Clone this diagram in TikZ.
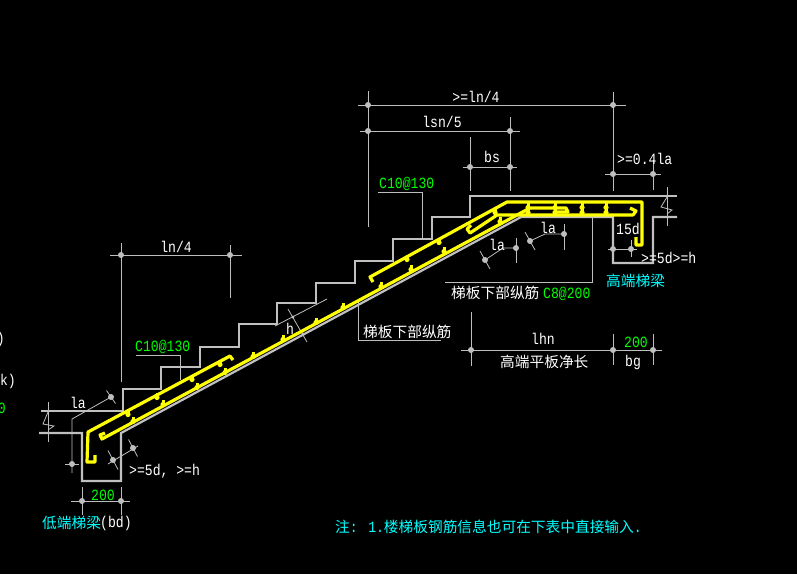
\documentclass[tikz,border=0pt]{standalone}
\usepackage{fontspec}
\setmainfont[FakeStretch=0.84]{Liberation Mono}
\newfontfamily\cjk{Noto Sans CJK SC}
\definecolor{cadgrey}{RGB}{192,192,192}
\definecolor{dimgrey}{RGB}{190,190,190}
\definecolor{cadyellow}{RGB}{255,255,0}
\definecolor{cadgreen}{RGB}{0,255,0}
\definecolor{cadcyan}{RGB}{0,255,255}
\newcommand{\cn}[1]{{\cjk\fontsize{14.7}{15}\selectfont #1}}
\tikzset{
  concrete/.style={draw=cadgrey,line width=2.2pt,line join=miter},
  dimline/.style={draw=dimgrey,line width=0.8pt},
  bar/.style={draw=cadyellow,line width=3.2pt,line join=round},
  tie/.style={cadyellow},
  dimdot/.style={fill=dimgrey,draw=none},
  wtext/.style={text=white,inner sep=0pt,font=\fontsize{15.6}{16}\selectfont},
  gtext/.style={wtext,text=cadgreen},
  ctext/.style={wtext,text=cadcyan}
}
\newcommand{\dd}[2]{\fill[dimdot] (#1,#2) circle (3pt);}
\newcommand{\tk}[2]{\fill[tie] (#1-1.5,#2-3.5) rectangle (#1+1.5,#2+2.5);\fill[tie] (#1,#2+1.5) circle (2.6pt);}
\newcommand{\sk}[4]{\draw[dimline] (#1-#3,#2-#4) -- (#1+#3,#2+#4);\dd{#1}{#2}}
\begin{document}
\begin{tikzpicture}[x=1pt,y=-1pt]
\clip (0,0) rectangle (797,574);
\fill[black] (0,0) rectangle (797,574);

% concrete outline
\draw[concrete] (41,411) -- (123,411) -- (123,389) -- (161,389) -- (161,367) -- (200,367) -- (200,347) -- (239,347) -- (239,324) -- (277,324) -- (277,303) -- (316,303) -- (316,283) -- (355,283) -- (355,261) -- (393,261) -- (393,239) -- (432,239) -- (432,217) -- (470,217) -- (470,196) -- (677,196);
\draw[concrete] (39,433) -- (82,433) -- (82,481) -- (121,481) -- (121,433) -- (521,217) -- (613,217) -- (613,263) -- (653,263) -- (653,217) -- (677,217);

% break symbols
\draw[dimline] (48,402) -- (48,442);
\draw[dimline] (48,412) -- (43,424) -- (54,426) -- (48,430);
\draw[dimline] (667,187) -- (667,226);
\draw[dimline] (667,197) -- (661,207) -- (672,210) -- (667,214);

% dimension lines
\draw[dimline] (358,105) -- (626,105);
\draw[dimline] (368,91) -- (368,227);
\draw[dimline] (613,92) -- (613,191);
\dd{368}{105}\dd{613}{105}
\draw[dimline] (360,131) -- (520,131);
\draw[dimline] (510,117) -- (510,191);
\dd{368}{131}\dd{510}{131}
\draw[dimline] (463,167) -- (517,167);
\draw[dimline] (470,137) -- (470,191);
\dd{470}{167}\dd{510}{167}
\draw[dimline] (605,174) -- (661,174);
\draw[dimline] (653,160) -- (653,190);
\dd{613}{174}\dd{653}{174}

\draw[dimline] (110,255) -- (242,255);
\draw[dimline] (121,243) -- (121,382);
\draw[dimline] (230,245) -- (230,298);
\dd{121}{255}\dd{230}{255}

\draw[dimline] (461,350) -- (662,350);
\draw[dimline] (471,312) -- (471,366);
\draw[dimline] (613,334) -- (613,365);
\draw[dimline] (653,334) -- (653,365);
\dd{471}{350}\dd{613}{350}\dd{653}{350}

\draw[dimline] (71,501) -- (130,501);
\draw[dimline] (82,487) -- (82,515);
\draw[dimline] (121,487) -- (121,515);
\dd{82}{501}\dd{121}{501}

% la low end
\draw[dimline] (111,397) -- (72,419) -- (72,473);
\draw[dimline] (65,464) -- (79,464);
\sk{111}{397}{4.5}{6.5}
\dd{72}{464}
% >=5d
\draw[dimline] (108,464) -- (138,446);
\sk{133}{448}{4.5}{8.5}
\sk{113}{460}{5}{9.5}
% h
\draw[dimline] (275,326) -- (327,299);
\draw[dimline] (288,309) -- (307,342);
\fill[dimgrey] (293,317) circle (1.6pt);
\fill[dimgrey] (303,334) circle (1.6pt);
% 15d
\draw[dimline] (608,249) -- (637,249);
\draw[dimline] (631,240) -- (631,257);
\dd{613}{249}\dd{631}{249}
% la high end
\draw[dimline] (485,260) -- (503,248) -- (516,248);
\draw[dimline] (516,238) -- (516,263);
\sk{485}{260}{5}{9}
\dd{516}{248}
\draw[dimline] (530,241) -- (545,234) -- (564,234);
\draw[dimline] (564,224) -- (564,250);
\sk{530}{241}{5}{9}
\dd{564}{234}

% leaders
\draw[dimline] (136,355) -- (180,355) -- (180,380);
\draw[dimline] (378,192) -- (422,192) -- (422,240);
\draw[dimline] (358,302) -- (358,340) -- (441,340);
\draw[dimline] (592,215) -- (592,282) -- (445,282);

% rebars
\draw[bar] (95,455) -- (95,462) -- (87,462) -- (88,432) -- (230,356) -- (233,360);
\draw[bar] (105,433) -- (100,435) -- (102,439) -- (530,208) -- (566,208) -- (568,212) -- (555,212);
\draw[bar] (373,282) -- (370,277) -- (507,202) -- (642,202) -- (642,245) -- (636,245) -- (636,237);
\draw[bar] (471,225) -- (467,229) -- (470,233) -- (497,215) -- (633,215) -- (636,211) -- (630,208);

% ties on bars
\tk{128}{413}\tk{157}{396}\tk{192}{378}\tk{220}{363}
\tk{133}{420}\tk{163}{403}\tk{197}{386}\tk{225}{371}\tk{253}{355}
\tk{283}{338}\tk{316}{321}\tk{343}{306}\tk{381}{285}\tk{411}{268}\tk{444}{250}
\tk{407}{258}\tk{439}{241}\tk{500}{220}
\tk{495}{211}
\tk{528}{206}\tk{555}{206}\tk{582}{206}\tk{606}{206}
\tk{528}{211}\tk{555}{211}\tk{582}{211}\tk{606}{211}

% texts
\node[wtext,anchor=center] (t1) at (476,97) {>=ln/4};
\node[wtext,anchor=center] (t2) at (442,122) {lsn/5};
\node[wtext,anchor=center] (t3) at (492,157) {bs};
\node[wtext,anchor=west] (t4) at (617,159) {>=0.4la};
\node[gtext,anchor=west] (t5) at (379,184) {C10@130};
\node[wtext,anchor=center] (t6) at (176,247) {ln/4};
\node[gtext,anchor=west] (t7) at (135,347) {C10@130};
\node[wtext,anchor=center] (t8) at (290,329) {h};
\node[wtext,anchor=center] (t9) at (78,403) {la};
\node[wtext,anchor=west] (t10) at (129,471) {>=5d, >=h};
\node[gtext,anchor=center] (t11) at (103,495) {200};
\node[ctext,anchor=west] (t12) at (42,523) {\cn{低端梯梁}};
\node[wtext,anchor=west] (t13) at (100,523) {(bd)};
\node[wtext,anchor=west] (t14) at (363,332) {\cn{梯板下部纵筋}};
\node[wtext,anchor=west] (t15) at (451,293) {\cn{梯板下部纵筋}};
\node[gtext,anchor=west] (t16) at (543,294) {C8@200};
\node[wtext,anchor=center] (t17) at (497,245) {la};
\node[wtext,anchor=center] (t18) at (548,228) {la};
\node[wtext,anchor=center] (t19) at (628,229) {15d};
\node[wtext,anchor=west] (t20) at (641,258) {>=5d>=h};
\node[ctext,anchor=west] (t21) at (606,281) {\cn{高端梯梁}};
\node[wtext,anchor=center] (t22) at (543,339) {lhn};
\node[gtext,anchor=center] (t23) at (636,342) {200};
\node[wtext,anchor=west] (t24) at (500,362) {\cn{高端平板净长}};
\node[wtext,anchor=center] (t25) at (633,362) {bg};
\node[ctext,anchor=west] (t26) at (335,527) {\cn{注}: 1.\cn{楼梯板钢筋信息也可在下表中直接输入}.};
\node[wtext,anchor=east] (t27) at (5,339) {)};
\node[wtext,anchor=east] (t28) at (16,381) {jk)};
\node[gtext,anchor=east] (t29) at (6,408) {0};
\end{tikzpicture}
\end{document}
